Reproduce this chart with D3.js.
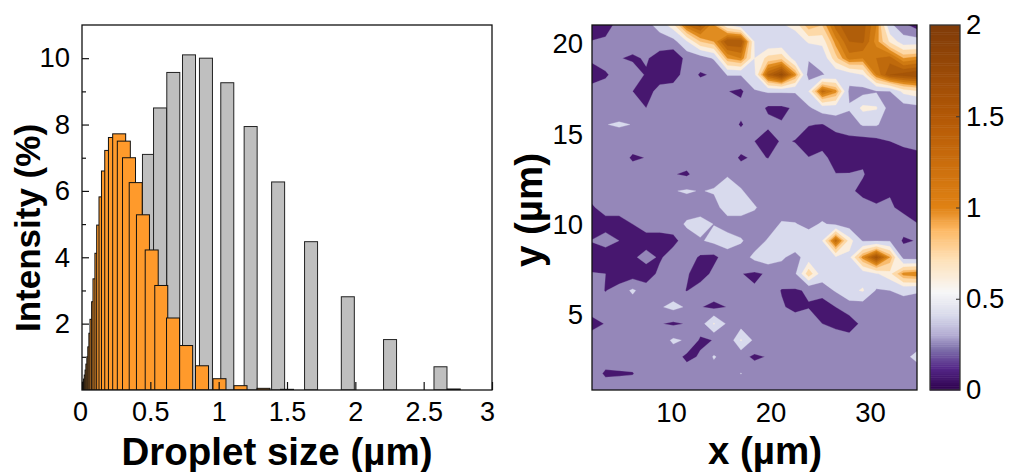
<!DOCTYPE html>
<html><head><meta charset="utf-8">
<script src="https://cdn.jsdelivr.net/npm/d3@7"></script>
<style>
html,body{margin:0;padding:0;background:#fff}
svg{display:block}
text{font-family:"Liberation Sans",Arial,sans-serif;fill:#000}
</style></head><body><svg id="c" width="1009" height="472"></svg>
<script>
// ---- left panel data ----
const grayX = [0.265,0.31,0.36,0.42,0.49,0.571,0.668,0.783,0.907,1.063,1.234,1.435,1.676,1.945,2.254,2.623];
const grayY = [0.5,1.5,3.2,5.2,7.1,8.5,9.57,10.1,10.0,9.26,7.94,6.27,4.47,2.81,1.52,0.70];
const orangeX = [0.032,0.036,0.04,0.044,0.048,0.053,0.058,0.064,0.07,0.076,0.083,0.09,0.098,0.106,0.118,0.128,0.142,0.155,0.172,0.19,0.214,0.241,0.272,0.306,0.344,0.393,0.446,0.51,0.58,0.666,0.762,0.878,1.006,1.16,1.328,1.5,2.72];
const orangeY = [0.02,0.04,0.07,0.11,0.17,0.24,0.33,0.45,0.6,0.78,1.0,1.3,1.71,2.13,2.66,3.35,4.12,4.97,5.82,6.6,7.22,7.61,7.72,7.5,7.0,6.25,5.28,4.22,3.15,2.17,1.34,0.73,0.34,0.13,0.05,0.02,0.03];
const xTicksL = [0,0.5,1,1.5,2,2.5,3];
const yMajorL = [2,4,6,8,10];
const yMinorL = [1,3,5,7,9];
// ---- right panel data (rows top to bottom) ----
const contourZ = [
[.05,.08,.3,.3,.33,.48,.7,1.2,1.35,1.0,.6,.45,.5,.55,.58,.65,1.0,.9,1.25,1.4,1.35,1.1,.45,.25,.1],
[.21,.25,.3,.3,.3,.3,.33,.58,.9,1.0,1.4,1.4,.58,.45,.45,.5,.62,.65,1.05,1.3,1.32,1.05,.72,.5,.5],
[.25,.3,.21,.17,.22,.12,.05,.26,.3,.42,1.0,1.1,.6,.8,.85,.5,.42,.45,.85,1.15,1.1,1.2,1.25,1.0,1.05],
[.08,.17,.3,.3,.18,.05,.1,.3,.18,.22,.41,.41,.55,1.3,1.55,1.05,.3,.39,.45,.5,.6,1.1,1.4,1.45,1.5],
[.3,.3,.3,.2,.08,.3,.3,.3,.3,.3,.205,.16,.38,.42,.42,.42,.6,1.25,1.05,.35,.33,.38,.4,.65,.72],
[.3,.3,.3,.3,.2,.3,.3,.3,.3,.3,.3,.26,.3,.17,.17,.22,.37,.5,.5,.42,.65,.62,.3,.3,.33],
[.3,.395,.42,.395,.3,.3,.3,.3,.3,.3,.3,.18,.3,.25,.21,.3,.21,.19,.28,.3,.42,.42,.3,.3,.3],
[.3,.3,.3,.3,.3,.3,.3,.3,.3,.3,.3,.3,.2,.07,.23,.19,.1,.05,.1,.15,.12,.15,.2,.28,.3],
[.3,.3,.3,.17,.205,.3,.3,.3,.3,.3,.3,.17,.23,.195,.3,.3,.205,.3,.05,.08,.15,.05,.03,.05,.12],
[.3,.3,.3,.3,.3,.3,.21,.17,.3,.3,.38,.3,.3,.3,.3,.3,.3,.3,.21,.21,.22,.06,.04,.05,.05],
[.3,.3,.3,.3,.3,.3,.39,.42,.39,.42,.5,.42,.3,.3,.3,.3,.3,.3,.3,.25,.13,.1,.18,.12,.08],
[.17,.3,.3,.3,.3,.3,.3,.3,.3,.32,.5,.5,.42,.3,.3,.3,.3,.3,.3,.3,.3,.23,.23,.14,.07],
[.05,.1,.1,.2,.3,.3,.3,.43,.48,.395,.3,.3,.3,.3,.42,.41,.35,.42,.36,.3,.3,.3,.3,.3,.21],
[.21,.3,.2,.05,.1,.1,.14,.3,.38,.45,.5,.42,.3,.42,.55,.55,.5,.6,1.25,.68,.38,.38,.38,.17,.21],
[.1,.05,.05,.16,.28,.17,.3,.3,.17,.15,.3,.3,.45,.53,.43,.33,.5,.5,.58,.55,1.05,1.45,1.0,.32,.3],
[.21,.2,.04,.1,.08,.25,.3,.22,.1,.25,.3,.205,.17,.22,.3,.37,.85,.5,.5,.5,.5,.58,.7,1.05,1.1],
[.3,.19,.3,.43,.3,.3,.3,.19,.3,.3,.3,.3,.22,.3,.19,.18,.22,.3,.42,.55,.62,.38,.4,.45,.42],
[.3,.3,.3,.3,.3,.38,.45,.38,.21,.15,.205,.3,.3,.3,.22,.15,.19,.08,.2,.3,.28,.3,.3,.3,.3],
[.13,.21,.3,.3,.3,.21,.17,.21,.3,.62,.36,.3,.3,.3,.3,.3,.3,.2,.15,.1,.25,.3,.3,.3,.3],
[.3,.3,.3,.3,.3,.3,.43,.38,.17,.205,.22,.62,.35,.3,.3,.3,.3,.3,.3,.28,.3,.3,.3,.3,.3],
[.3,.3,.3,.3,.3,.3,.3,.15,.22,.42,.3,.25,.17,.21,.3,.3,.3,.3,.3,.3,.3,.3,.3,.35,.45],
[.3,.17,.18,.19,.3,.3,.3,.3,.3,.3,.3,.405,.3,.3,.3,.3,.3,.3,.3,.3,.3,.3,.3,.3,.3],
[.3,.3,.3,.3,.3,.3,.3,.3,.3,.3,.3,.3,.3,.3,.3,.3,.3,.3,.3,.3,.3,.3,.3,.3,.3]
];
const levels = [0,.2,.4,.6,.75,.9,1.0,1.1,1.2,1.3,1.4,1.5];
const levelColors = ["#47176f","#9587b9","#d8daed","#fbeedd","#fdd9a8","#f9bc6e","#e08c20","#cf7a12","#bf6a0c","#b05e0a","#a55508","#9a4e08"];
const xTicksR = [10,20,30];
const yTicksR = [5,10,15,20];
const cbStops = [0,.12,.23,.3,.41,.54,.72,.88,1,1.5,2];
const cbColors = ["#2d004b","#542788","#8073ac","#b2abd2","#d8daeb","#f7f7f7","#fee0b6","#fdb863","#e08214","#b35806","#7f3b08"];
const cbTicks = [0,0.5,1,1.5,2];
const cbMarks = [0.5,1,1.5];

const svg = d3.select("#c");
const FRAME = "#111";

// ---------- left panel
const L = {l:82,r:492,t:25,b:390};
const xL = d3.scaleLinear([0,3],[L.l,L.r]);
const yL = d3.scaleLinear([0,11],[L.b,L.t]);
const barW = 13;
svg.append("clipPath").attr("id","cl").append("rect").attr("x",L.l).attr("y",L.t).attr("width",L.r-L.l).attr("height",L.b-L.t);
const gL = svg.append("g").attr("clip-path","url(#cl)");
gL.selectAll(".g").data(d3.zip(grayX,grayY)).join("rect")
  .attr("x",d=>xL(d[0])-barW/2).attr("width",barW)
  .attr("y",d=>yL(d[1])).attr("height",d=>L.b-yL(d[1]))
  .attr("fill","#bfbfbf").attr("stroke","#222").attr("stroke-width",1);
gL.selectAll(".o").data(d3.zip(orangeX,orangeY)).join("rect")
  .attr("x",d=>xL(d[0])-barW/2).attr("width",barW)
  .attr("y",d=>yL(d[1])).attr("height",d=>L.b-yL(d[1]))
  .attr("fill","#ff9a2b").attr("stroke","#111").attr("stroke-width",1);

const axXL = svg.append("g").attr("transform",`translate(0,${L.b})`)
  .call(d3.axisBottom(xL).tickValues(xTicksL).tickFormat(d=>d).tickSizeInner(-8).tickSizeOuter(0).tickPadding(7));
axXL.selectAll("text").attr("font-size",27).attr("dy","0.9em")
  .attr("dx",d=>d===3?-5:d===0?-2:0);
const axYL = svg.append("g").attr("transform",`translate(${L.l},0)`)
  .call(d3.axisLeft(yL).tickValues(yMajorL).tickFormat(d=>d).tickSizeInner(-7).tickSizeOuter(0).tickPadding(12));
axYL.selectAll("text").attr("font-size",27.5);
svg.append("g").attr("transform",`translate(${L.l},0)`)
  .call(d3.axisLeft(yL).tickValues(yMinorL).tickFormat("").tickSizeInner(-4).tickSizeOuter(0));
svg.selectAll(".domain").remove();
svg.selectAll(".tick line").attr("stroke","#111").attr("stroke-width",1.2);
svg.append("rect").attr("x",L.l).attr("y",L.t).attr("width",L.r-L.l).attr("height",L.b-L.t)
  .attr("fill","none").attr("stroke",FRAME).attr("stroke-width",1.3);

svg.append("text").attr("x",277).attr("y",465).attr("text-anchor","middle")
  .attr("font-size",38.5).attr("font-weight","bold").text("Droplet size (µm)");
svg.append("text").attr("transform","translate(40,228) rotate(-90)").attr("text-anchor","middle")
  .attr("font-size",35).attr("font-weight","bold").text("Intensity (%)");

// ---------- right panel
const R = {l:592,r:917,t:25,b:390};
const xMin=2.06,xMax=34.72,yMin=0.85,yMax=21.05;
const xR = d3.scaleLinear([xMin,xMax],[R.l,R.r]);
const yR = d3.scaleLinear([yMin,yMax],[R.b,R.t]);
const nx = contourZ[0].length, ny = contourZ.length;
const stepX=(xMax-xMin)/(nx-1), stepY=(yMax-yMin)/(ny-1);
const proj = d3.geoTransform({point(x,y){
  this.stream.point(xR(xMin+(x-0.5)*stepX), yR(yMax-(y-0.5)*stepY));
}});
const path = d3.geoPath(proj);
const cont = d3.contours().size([nx,ny]).smooth(true).thresholds(levels)(contourZ.flat());
svg.append("clipPath").attr("id","cr").append("rect").attr("x",R.l).attr("y",R.t).attr("width",R.r-R.l).attr("height",R.b-R.t);
svg.append("g").attr("clip-path","url(#cr)").selectAll("path").data(cont).join("path")
  .attr("d",path).attr("fill",(d,i)=>levelColors[i]).attr("stroke",(d,i)=>levelColors[i]).attr("stroke-width",0.3);
svg.append("rect").attr("x",R.l).attr("y",R.t).attr("width",R.r-R.l).attr("height",R.b-R.t)
  .attr("fill","none").attr("stroke",FRAME).attr("stroke-width",1.3);

const axXR = svg.append("g").attr("transform",`translate(0,${R.b})`)
  .call(d3.axisBottom(xR).tickValues(xTicksR).tickFormat(d=>d).tickSize(0).tickPadding(7));
axXR.selectAll("text").attr("font-size",27.5).attr("dy","0.9em");
const axYR = svg.append("g").attr("transform",`translate(${R.l},0)`)
  .call(d3.axisLeft(yR).tickValues(yTicksR).tickFormat(d=>d).tickSize(0).tickPadding(9));
axYR.selectAll("text").attr("font-size",27.5);
axXR.select(".domain").remove(); axYR.select(".domain").remove();

svg.append("text").attr("x",765).attr("y",464).attr("text-anchor","middle")
  .attr("font-size",38.5).attr("font-weight","bold").text("x (µm)");
svg.append("text").attr("transform","translate(542,210) rotate(-90)").attr("text-anchor","middle")
  .attr("font-size",38.5).attr("font-weight","bold").text("y (µm)");

// ---------- colour bar
const cb = {l:930,r:960,t:25,b:390};
const yCb = d3.scaleLinear([0,2],[cb.b,cb.t]);
const cbScale = d3.scaleLinear(cbStops,cbColors);
const strips = d3.range(0,2,0.01);
svg.append("g").selectAll("rect").data(strips).join("rect")
  .attr("x",cb.l).attr("width",cb.r-cb.l)
  .attr("y",d=>yCb(d+0.01)).attr("height",d=>yCb(d)-yCb(d+0.01)+0.5)
  .attr("fill",d=>cbScale(d+0.005));
svg.append("rect").attr("x",cb.l).attr("y",cb.t).attr("width",cb.r-cb.l).attr("height",cb.b-cb.t)
  .attr("fill","none").attr("stroke","#333").attr("stroke-width",1.3);
const axCb = svg.append("g").attr("transform",`translate(${cb.r},0)`)
  .call(d3.axisRight(yCb).tickValues(cbTicks).tickFormat(d=>d).tickSize(0).tickPadding(6));
axCb.select(".domain").remove();
axCb.selectAll("text").attr("font-size",27.5);
svg.append("g").attr("transform",`translate(${cb.r},0)`)
  .call(d3.axisLeft(yCb).tickValues(cbMarks).tickFormat("").tickSizeInner(4).tickSizeOuter(0))
  .call(g=>g.select(".domain").remove())
  .selectAll("line").attr("stroke","#333").attr("stroke-width",1);
</script></body></html>
